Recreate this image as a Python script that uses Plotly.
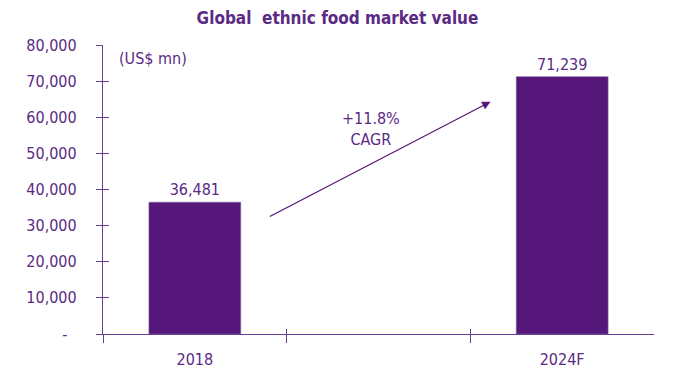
import plotly.graph_objects as go

# Market value data (US$ mn)
years = ["2018", "2024F"]
values = [36481, 71239]
cagr_text = "+11.8%<br>CAGR"

# Axis ticks
y_tick_vals = [0, 10000, 20000, 30000, 40000, 50000, 60000, 70000, 80000]
y_tick_text = ["-\u00a0\u00a0", "10,000", "20,000", "30,000", "40,000",
               "50,000", "60,000", "70,000", "80,000"]

# Bars sit on slots 0 and 2; slot 1 is an empty gap between them
x_pos = [0, 2]
boundaries = [-0.5, 0.5, 1.5]

PURPLE = "#55187a"
TEXT = "#5b2a84"
AXIS = "#6b3c93"
FONT = "DejaVu Sans Condensed, DejaVu Sans, sans-serif"

fig = go.Figure()
fig.add_trace(go.Bar(
    x=x_pos, y=values, width=0.5,
    marker=dict(color=PURPLE, line=dict(color="#8a63a8", width=0.6)),
    text=[f"{v:,}" for v in values], textposition="outside",
    textfont=dict(color=TEXT, size=16, family=FONT),
    cliponaxis=False, hoverinfo="skip", xaxis="x", yaxis="y",
))

# Invisible helper traces so the tick-only overlay axes render
fig.add_trace(go.Scatter(x=[None], y=[None], xaxis="x2", yaxis="y2",
                         showlegend=False, hoverinfo="skip"))
fig.add_trace(go.Scatter(x=[None], y=[None], xaxis="x3", yaxis="y",
                         showlegend=False, hoverinfo="skip"))

fig.update_layout(
    width=675, height=376,
    margin=dict(l=103, r=21, t=45, b=42, autoexpand=False),
    paper_bgcolor="white", plot_bgcolor="white",
    showlegend=False,
    font=dict(family=FONT, color=TEXT, size=16),
    title=dict(text="<b>Global  ethnic food market value</b>",
               x=0.5, xanchor="center", xref="container",
               y=1 - 18 / 376, yanchor="middle", yref="container",
               font=dict(size=17, color=TEXT, family=FONT)),
    xaxis=dict(range=[-0.5, 2.5], tickvals=x_pos, ticktext=years,
               ticks="", showgrid=False, zeroline=False, automargin=False,
               showline=True, linecolor=AXIS, linewidth=1.2,
               ticklabelstandoff=11, tickfont=dict(size=16, color=TEXT)),
    xaxis2=dict(range=[-0.5, 2.5], overlaying="x", anchor="y",
                tickvals=boundaries, ticks="outside", ticklen=8,
                tickcolor=AXIS, tickwidth=1.2, showticklabels=False,
                automargin=False,
                showgrid=False, zeroline=False, showline=False),
    xaxis3=dict(range=[-0.5, 2.5], overlaying="x", anchor="y",
                tickvals=boundaries, ticks="inside", ticklen=5,
                tickcolor=AXIS, tickwidth=1.2, showticklabels=False,
                automargin=False,
                showgrid=False, zeroline=False, showline=False),
    yaxis=dict(range=[0, 80000], tickvals=y_tick_vals, ticktext=y_tick_text,
               ticks="outside", ticklen=6, tickcolor=AXIS, tickwidth=1.2,
               showgrid=False, zeroline=False, automargin=False,
               showline=True, linecolor=AXIS, linewidth=1.2,
               ticklabelstandoff=16, tickfont=dict(size=16, color=TEXT)),
    yaxis2=dict(range=[0, 80000], overlaying="y", anchor="x",
                tickvals=y_tick_vals, ticks="inside", ticklen=6,
                tickcolor=AXIS, tickwidth=1.2, showticklabels=False,
                automargin=False,
                showgrid=False, zeroline=False, showline=False),
)

# Unit label in the upper-left corner of the plot
fig.add_annotation(text="(US$ mn)", xref="paper", yref="paper",
                   x=0.025, y=0.955, xanchor="left", yanchor="middle",
                   showarrow=False, font=dict(size=16, color=TEXT, family=FONT))

# Growth arrow between the two bars
fig.add_annotation(x=1.61, y=64300, ax=0.40, ay=32300,
                   xref="x", yref="y", axref="x", ayref="y",
                   text="", showarrow=True, arrowhead=2, arrowsize=1.3,
                   arrowwidth=1.3, arrowcolor=PURPLE)
fig.add_annotation(text=cagr_text, x=0.96, y=56800, xref="x", yref="y",
                   showarrow=False, align="center",
                   font=dict(size=16, color=TEXT, family=FONT))

fig.write_html("out.html")
